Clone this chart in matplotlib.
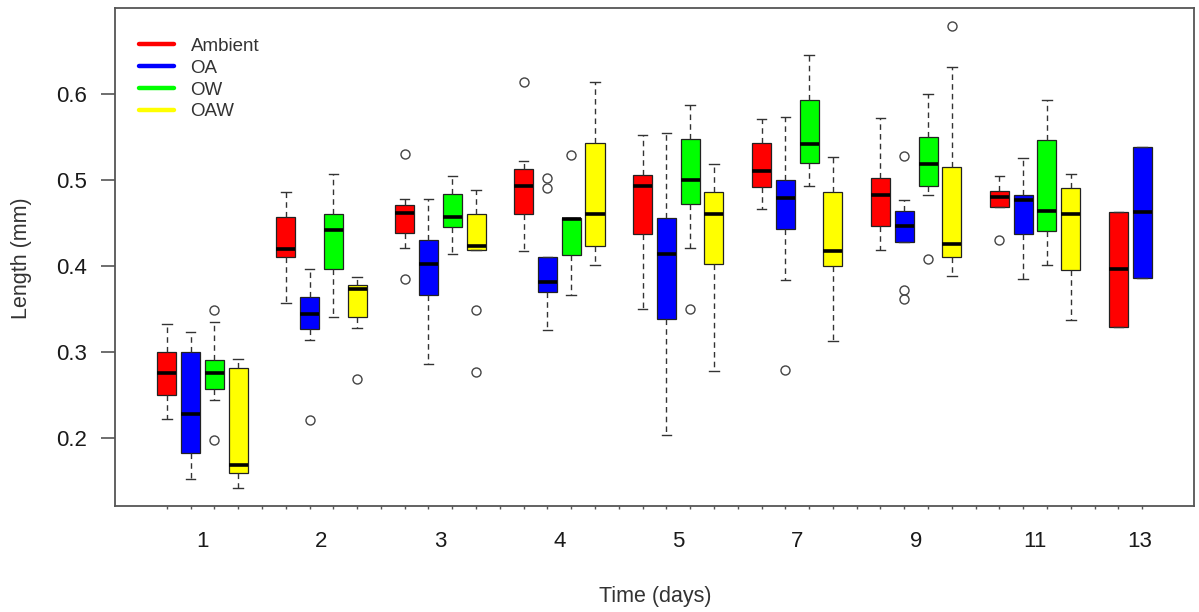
import matplotlib
matplotlib.use("Agg")
import matplotlib.pyplot as plt
from matplotlib.lines import Line2D

plt.rcParams["font.family"] = ["Liberation Sans", "DejaVu Sans"]

# sampling days and treatments
days = ["1", "2", "3", "4", "5", "7", "9", "11", "13"]
treatments = ["Ambient", "OA", "OW", "OAW"]

# box statistics (mm), one value per day
# None = no data for that treatment on that day
amb_low = [0.222, 0.356, 0.421, 0.417, 0.350, 0.466, 0.418, 0.468, 0.329]
amb_q1 = [0.250, 0.410, 0.438, 0.460, 0.437, 0.491, 0.446, 0.468, 0.329]
amb_med = [0.275, 0.419, 0.461, 0.493, 0.493, 0.510, 0.482, 0.480, 0.396]
amb_q3 = [0.299, 0.456, 0.471, 0.512, 0.505, 0.542, 0.502, 0.487, 0.462]
amb_high = [0.332, 0.486, 0.477, 0.522, 0.552, 0.571, 0.572, 0.504, 0.462]
amb_out = [[], [], [0.530, 0.384], [0.613], [], [], [], [0.430], []]

oa_low = [0.152, 0.314, 0.286, 0.325, 0.203, 0.383, 0.427, 0.385, 0.386]
oa_q1 = [0.182, 0.326, 0.366, 0.369, 0.338, 0.442, 0.427, 0.437, 0.386]
oa_med = [0.228, 0.344, 0.402, 0.381, 0.414, 0.479, 0.446, 0.476, 0.462]
oa_q3 = [0.300, 0.363, 0.430, 0.410, 0.455, 0.500, 0.463, 0.482, 0.538]
oa_high = [0.323, 0.396, 0.477, 0.410, 0.554, 0.573, 0.476, 0.525, 0.538]
oa_out = [[], [0.220], [], [0.502, 0.490], [], [0.279], [0.527, 0.372, 0.361], [], []]

ow_low = [0.244, 0.340, 0.414, 0.366, 0.420, 0.493, 0.482, 0.401, None]
ow_q1 = [0.256, 0.396, 0.445, 0.412, 0.472, 0.519, 0.493, 0.440, None]
ow_med = [0.275, 0.441, 0.456, 0.454, 0.500, 0.541, 0.518, 0.464, None]
ow_q3 = [0.290, 0.460, 0.483, 0.455, 0.547, 0.592, 0.549, 0.546, None]
ow_high = [0.334, 0.506, 0.504, 0.455, 0.587, 0.645, 0.600, 0.592, None]
ow_out = [[0.348, 0.197], [], [], [0.528], [0.349], [], [0.408], [], []]

oaw_low = [0.142, 0.327, 0.418, 0.401, 0.278, 0.312, 0.388, 0.337, None]
oaw_q1 = [0.159, 0.340, 0.418, 0.423, 0.402, 0.399, 0.410, 0.395, None]
oaw_med = [0.168, 0.373, 0.423, 0.460, 0.460, 0.417, 0.425, 0.460, None]
oaw_q3 = [0.281, 0.378, 0.460, 0.543, 0.485, 0.485, 0.515, 0.490, None]
oaw_high = [0.291, 0.387, 0.488, 0.613, 0.518, 0.526, 0.631, 0.507, None]
oaw_out = [[], [0.268], [0.348, 0.276], [], [], [], [0.678], [], []]

lows = [amb_low, oa_low, ow_low, oaw_low]
q1s = [amb_q1, oa_q1, ow_q1, oaw_q1]
meds = [amb_med, oa_med, ow_med, oaw_med]
q3s = [amb_q3, oa_q3, ow_q3, oaw_q3]
highs = [amb_high, oa_high, ow_high, oaw_high]
outs = [amb_out, oa_out, ow_out, oaw_out]

colors = ["#FF0000", "#0000FF", "#00FF00", "#FFFF00"]

# build bxp stats, 5 slots per day (4 boxes + 1 gap), like R's boxplot(at=...)
stats, positions, box_cols = [], [], []
for g in range(len(days)):
    for t in range(len(treatments)):
        if meds[t][g] is None:
            continue
        stats.append(dict(whislo=lows[t][g], q1=q1s[t][g], med=meds[t][g],
                          q3=q3s[t][g], whishi=highs[t][g], fliers=outs[t][g]))
        positions.append(5 * g + t + 1)
        box_cols.append(colors[t])

fig = plt.figure(figsize=(11.99, 6.12), dpi=100)
ax = fig.add_axes([0.0959, 0.1732, 0.8999, 0.8137])

res = ax.bxp(stats, positions=positions, widths=0.8, patch_artist=True,
             boxprops=dict(edgecolor="#222222", linewidth=0.9),
             whiskerprops=dict(color="#333333", linewidth=1.0, linestyle=(0, (4, 3))),
             capprops=dict(color="#333333", linewidth=1.0),
             medianprops=dict(color="black", linewidth=2.6, solid_capstyle="butt"),
             flierprops=dict(marker="o", markerfacecolor="none", markeredgecolor="#444444",
                             markersize=6.5, markeredgewidth=1.0))
for patch, c in zip(res["boxes"], box_cols):
    patch.set_facecolor(c)

# R-style axis limits: 4% padding around the data range
n_slots = max(positions)
ax.set_xlim(0.5 - 0.04 * n_slots, n_slots + 0.5 + 0.04 * n_slots)
all_vals = [s["whislo"] for s in stats] + [s["whishi"] for s in stats]
all_vals += [v for s in stats for v in s["fliers"]]
lo, hi = min(all_vals), max(all_vals)
ax.set_ylim(lo - 0.04 * (hi - lo), hi + 0.04 * (hi - lo))

# y axis
ax.set_yticks([0.2, 0.3, 0.4, 0.5, 0.6])
ax.set_yticklabels(["0.2", "0.3", "0.4", "0.5", "0.6"])
ax.tick_params(axis="y", direction="out", length=10, width=1.2, pad=10,
               labelsize=16, colors="#555555", labelcolor="#1a1a1a")

# x axis: tiny ticks at every slot, day labels in the middle of each group
ax.set_xticks(range(1, n_slots + 1))
ax.set_xticklabels([])
ax.tick_params(axis="x", which="major", direction="out", length=2.5, width=1, colors="#555555")
label_pos = [5 * g + 2.5 for g in range(len(days) - 1)] + [41.9]
ax.set_xticks(label_pos, minor=True)
ax.set_xticklabels(days, minor=True)
ax.tick_params(axis="x", which="minor", length=0, pad=18, labelsize=16, labelcolor="#1a1a1a")

for sp in ax.spines.values():
    sp.set_color("#555555")
    sp.set_linewidth(1.3)

fig.text(0.5463, 0.025, "Time (days)", ha="center", va="center", fontsize=15.5, color="#333333")
fig.text(0.0183, 0.5776, "Length (mm)", ha="center", va="center", rotation=90,
         fontsize=15.5, color="#333333")

handles = [Line2D([], [], color=c, lw=3.2, solid_capstyle="round") for c in colors]
leg = ax.legend(handles, treatments, loc="upper left", bbox_to_anchor=(0.0222, 0.94),
                frameon=False, borderpad=0, borderaxespad=0, handlelength=1.85,
                handletextpad=0.9, labelspacing=0.25, fontsize=13.5)
for txt in leg.get_texts():
    txt.set_color("#333333")

fig.savefig("out.png", dpi=100)
